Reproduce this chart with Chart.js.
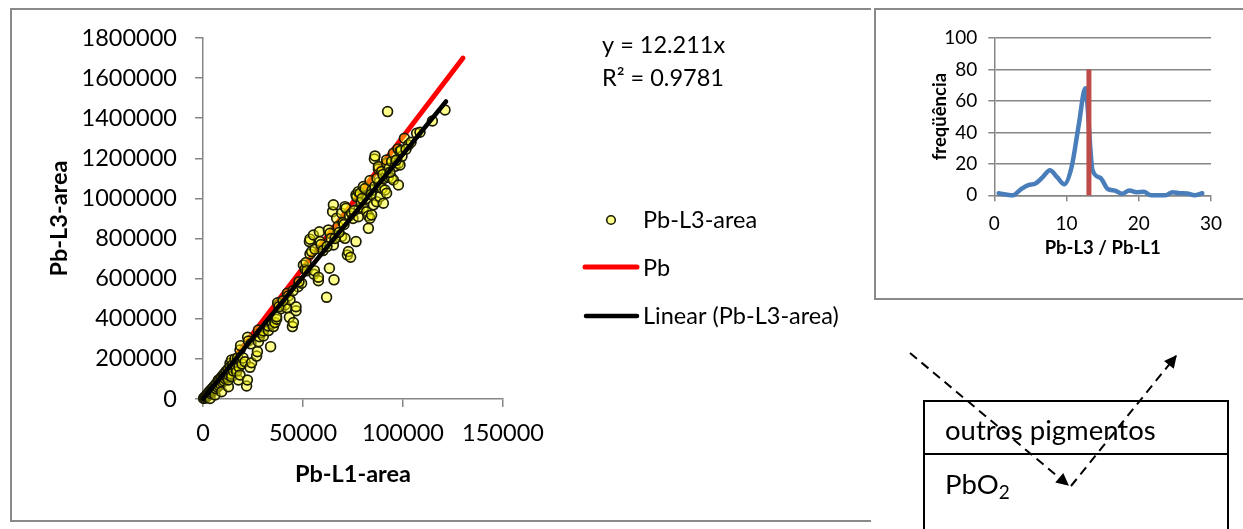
<!DOCTYPE html>
<html>
<head>
<meta charset="utf-8">
<script src="https://cdn.jsdelivr.net/npm/chart.js@4.4.1/dist/chart.umd.min.js"></script>
<style>
  html, body { margin: 0; padding: 0; background: #fff; }
  body { width: 1243px; height: 529px; position: relative; overflow: hidden; font-family: Lato, sans-serif; }
  #panelMain { position: absolute; left: 10px; top: 8px; width: 861px; height: 514px; box-sizing: border-box;
    border-left: 2px solid #898989; border-top: 2px solid #898989; border-bottom: 2px solid #898989; }
  #panelInset { position: absolute; left: 874px; top: 8px; width: 400px; height: 292px; box-sizing: border-box;
    border-left: 2px solid #898989; border-top: 2px solid #898989; border-bottom: 2px solid #898989; }
  #mainChart { position: absolute; left: 0; top: 0; }
  #insetChart { position: absolute; left: 876px; top: 10px; }
  #diagram { position: absolute; left: 0; top: 0; }
</style>
</head>
<body>
<div id="panelMain"></div>
<div id="panelInset"></div>
<canvas id="mainChart" width="870" height="529"></canvas>
<canvas id="insetChart" width="367" height="287"></canvas>
<svg id="diagram" width="1243" height="529" xmlns="http://www.w3.org/2000/svg">
  <defs>
    <marker id="arrow" viewBox="0 0 10 10" refX="9" refY="5" markerWidth="7" markerHeight="7" orient="auto" markerUnits="userSpaceOnUse" style="overflow:visible">
      <path d="M0,0 L10,5 L0,10 z" fill="#000" transform="scale(1.8) translate(-4,-2.2)"/>
    </marker>
  </defs>
  <rect x="924" y="401" width="304" height="160" fill="none" stroke="#000" stroke-width="2"/>
  <line x1="924" y1="454" x2="1228" y2="454" stroke="#000" stroke-width="2"/>
  <text x="945" y="440" font-family="Lato" font-size="27.5" fill="#000">outros pigmentos</text>
  <text x="945" y="494" font-family="Lato" font-size="27.5" fill="#000">PbO<tspan font-size="19" dy="5">2</tspan></text>
  <line x1="910" y1="353" x2="1068" y2="485" stroke="#000" stroke-width="2" stroke-dasharray="9 6" marker-end="url(#arrow)"/>
  <line x1="1071" y1="486" x2="1176" y2="356" stroke="#000" stroke-width="2" stroke-dasharray="9 6" marker-end="url(#arrow)"/>
</svg>
<script>
// ---------- Main scatter data (Pb-L1-area vs Pb-L3-area) ----------
const l1Area = [300,700,1000,1300,1700,2000,2300,2600,3000,3300,3500,3700,4000,4300,4600,5000,5300,5600,6000,6000,
  6400,6800,7200,7600,7700,8000,8400,8800,9300,9200,9600,10000,10200,10500,10800,11200,11600,12000,12500,12700,
  12700,13000,13500,13600,14000,14300,14300,14800,15200,16000,16500,16800,17300,17700,18000,18500,18500,18800,19500,20000,
  21000,21800,22200,22300,22700,23500,24300,24000,26800,27200,27700,27700,28200,29000,30200,30200,32700,32700,33800,34500,
  35200,36000,36800,36800,37700,37300,39000,41000,41800,42200,42700,43200,43500,44700,45200,46500,46500,47500,49300,50200,
  51000,51500,52000,53200,53500,53500,54300,55200,55500,55700,56000,57700,57700,58200,58500,59000,60000,61800,62700,63200,
  63500,64000,64800,65200,65200,65500,66800,67500,69300,69300,70000,71000,71000,71500,72200,72700,73200,73800,74300,75000,
  76500,76500,76800,77700,77700,78000,78500,79000,80200,80200,81000,81800,82000,82700,82700,83500,83500,84300,84500,85200,
  85700,86000,86000,86800,87700,87700,88000,88500,89300,89500,90200,90500,91000,91800,91800,91800,92300,92700,93000,94300,
  94300,95200,95200,96000,96800,97500,97700,97700,98500,98500,99500,100700,102700,104000,106800,108500,114700,121000,
  38000,40000,45000,48000,62000,66000,68000,70500,75500,79500,84000,87000,90000,93500,96500,99000,101500];
const l3Area = [3000,8000,4000,14000,10000,22000,16000,30000,20000,38000,3000,28000,46000,34000,52000,40000,60000,46000,20000,68000,
  52000,78000,60000,88000,95000,66000,98000,74000,36000,108000,84000,118000,111000,90000,128000,100000,138000,108000,148000,61000,
  95000,118000,178000,160000,126000,111000,195000,170000,140000,200000,150000,136000,205000,95000,160000,120000,244000,266000,175000,205000,
  186000,65000,95000,308000,289000,158000,181000,275000,214000,236000,286000,344000,311000,330000,314000,339000,341000,364000,261000,375000,
  361000,381000,398000,410000,469000,480000,450000,469000,455000,527000,514000,407000,494000,361000,381000,440000,460000,560000,577000,668000,
  647000,680000,640000,785000,723000,797000,735000,818000,622000,640000,747000,590000,607000,834000,785000,770000,740000,507000,843000,652000,
  826000,800000,934000,968000,768000,594000,901000,860000,926000,810000,880000,959000,801000,951000,718000,735000,913000,707000,926000,900000,
  1018000,785000,1009000,1034000,909000,950000,1026000,980000,1059000,951000,1049000,934000,1000000,913000,851000,1089000,901000,918000,1040000,968000,
  1197000,1212000,1060000,984000,1147000,1159000,1080000,1009000,1134000,1050000,976000,1100000,1042000,1175000,1192000,1026000,1433000,1106000,1150000,1184000,
  1101000,1225000,1092000,1160000,1192000,1247000,1176000,1067000,1234000,1167000,1210000,1300000,1267000,1280000,1325000,1330000,1386000,1441000,
  460000,490000,540000,585000,760000,800000,830000,870000,940000,1000000,1020000,1100000,1120000,1130000,1190000,1240000,1245000];
const pbLineX = [0, 130000];
const pbLineY = [0, 1700000];
const trendX = [0, 121500];
const trendY = [0, 1483600];
const equationLines = ['y = 12.211x', 'R\u00B2 = 0.9781'];
const legendLabels = ['Pb-L3-area', 'Pb', 'Linear (Pb-L3-area)'];

// ---------- Inset data (histogram of Pb-L3 / Pb-L1) ----------
const ratioBins = [0.6,1.6,2.6,3.7,4.7,5.7,6.7,7.7,8.7,9.7,10.7,11.7,12.6,13.6,14.7,15.7,16.7,17.7,18.7,19.7,20.7,21.7,22.7,23.7,24.7,25.7,26.7,27.7,28.8];
const frequency = [1.3,0.5,0,4,6.5,7.5,11.5,16,11.5,7,18,45,68,16,11,4,3,1,3,2,2.2,0,0,0,2,1.3,1.2,0,1.3];
const pbRatioX = [13.1, 13.1];
const pbRatioY = [0, 80];

const toPts = (xs, ys) => xs.map((x, i) => ({x: x, y: ys[i]}));
const FONT = 'Lato';
const AXIS_GRAY = '#868686';
const POINT_FILL = 'rgba(255,255,0,0.45)';
const POINT_EDGE = '#1c1c05';

const annotationPlugin = {
  id: 'mainAnnot',
  afterDraw(chart) {
    const ctx = chart.ctx;
    ctx.save();
    ctx.fillStyle = '#000';
    ctx.font = '23.5px ' + FONT;
    ctx.textBaseline = 'alphabetic';
    ctx.textAlign = 'left';
    ctx.fillText(equationLines[0], 602, 53);
    ctx.fillText(equationLines[1], 602, 86);
    const ds = chart.data.datasets;
    ctx.beginPath();
    ctx.arc(611, 220, 4.3, 0, Math.PI * 2);
    ctx.fillStyle = POINT_FILL;
    ctx.fill();
    ctx.lineWidth = 1.6;
    ctx.strokeStyle = POINT_EDGE;
    ctx.stroke();
    ctx.fillStyle = '#000';
    ctx.fillText(legendLabels[0], 643, 228);
    ctx.lineCap = 'round';
    ctx.beginPath(); ctx.moveTo(585, 267); ctx.lineTo(637, 267);
    ctx.strokeStyle = ds[1].borderColor; ctx.lineWidth = 5; ctx.stroke();
    ctx.fillText(legendLabels[1], 643, 276);
    ctx.beginPath(); ctx.moveTo(586, 316); ctx.lineTo(637, 316);
    ctx.strokeStyle = ds[2].borderColor; ctx.lineWidth = 4.5; ctx.stroke();
    ctx.fillText(legendLabels[2], 643, 324);
    ctx.restore();
  }
};

new Chart(document.getElementById('mainChart'), {
  type: 'scatter',
  data: {
    datasets: [
      { label: legendLabels[0], data: toPts(l1Area, l3Area), backgroundColor: POINT_FILL,
        borderColor: POINT_EDGE, borderWidth: 1.7, pointRadius: 4.9, order: 1, clip: false },
      { label: legendLabels[1], data: toPts(pbLineX, pbLineY), showLine: true, borderColor: '#FF0000',
        borderWidth: 5, pointRadius: 0, borderCapStyle: 'round', order: 2, clip: false },
      { label: legendLabels[2], data: toPts(trendX, trendY), showLine: true, borderColor: '#000000',
        borderWidth: 4.5, pointRadius: 0, borderCapStyle: 'round', order: 0, clip: false }
    ]
  },
  options: {
    responsive: false, animation: false, devicePixelRatio: 1,
    layout: { padding: { left: 0, top: 38, right: 367, bottom: 0 } },
    plugins: { legend: { display: false }, tooltip: { enabled: false } },
    scales: {
      x: {
        type: 'linear', min: 0, max: 150000,
        ticks: { stepSize: 50000, color: '#000', font: { family: FONT, size: 23.5 }, padding: 12, maxRotation: 0,
                 callback: v => String(v) },
        grid: { drawOnChartArea: false, drawTicks: true, tickLength: 8, color: AXIS_GRAY, lineWidth: 1.5 },
        border: { display: true, color: AXIS_GRAY, width: 1.5 },
        title: { display: true, text: 'Pb-L1-area', color: '#000', font: { family: FONT, size: 23.5, weight: 'bold' },
                 padding: { top: 0, bottom: 40 } },
        afterFit: s => { s.height = 130; }
      },
      y: {
        type: 'linear', min: 0, max: 1800000,
        ticks: { stepSize: 200000, color: '#000', font: { family: FONT, size: 23.5 }, padding: 18,
                 callback: v => String(v) },
        grid: { drawOnChartArea: false, drawTicks: true, tickLength: 8, color: AXIS_GRAY, lineWidth: 1.5 },
        border: { display: true, color: AXIS_GRAY, width: 1.5 },
        title: { display: true, text: 'Pb-L3-area', color: '#000', font: { family: FONT, size: 23.5, weight: 'bold' },
                 padding: { top: 45, bottom: 0 } },
        afterFit: s => { s.width = 203; }
      }
    }
  },
  plugins: [annotationPlugin]
});

new Chart(document.getElementById('insetChart'), {
  type: 'scatter',
  data: {
    datasets: [
      { label: 'freq', data: toPts(ratioBins, frequency), showLine: true, borderColor: '#4A7EBB', borderWidth: 4.5,
        pointRadius: 0, cubicInterpolationMode: 'monotone', borderCapStyle: 'round', borderJoinStyle: 'round', order: 1, clip: false },
      { label: 'Pb', data: toPts(pbRatioX, pbRatioY), showLine: true, borderColor: '#BE4B48', borderWidth: 5,
        pointRadius: 0, order: 0, clip: false }
    ]
  },
  options: {
    responsive: false, animation: false, devicePixelRatio: 1,
    layout: { padding: { left: 0, top: 28, right: 32, bottom: 0 } },
    plugins: { legend: { display: false }, tooltip: { enabled: false } },
    scales: {
      x: {
        type: 'linear', min: 0, max: 30,
        ticks: { stepSize: 10, color: '#000', font: { family: FONT, size: 19 }, padding: 11, maxRotation: 0 },
        grid: { drawOnChartArea: false, drawTicks: true, tickLength: 6, color: AXIS_GRAY, lineWidth: 1.5 },
        border: { display: true, color: AXIS_GRAY, width: 1.5 },
        title: { display: true, text: 'Pb-L3 / Pb-L1', color: '#000', font: { family: FONT, size: 18.5, weight: 'bold' },
                 padding: { top: 0, bottom: 38 } },
        afterFit: s => { s.height = 101.7; }
      },
      y: {
        type: 'linear', min: 0, max: 100,
        ticks: { stepSize: 20, color: '#000', font: { family: FONT, size: 19 }, padding: 11 },
        grid: { drawOnChartArea: true, drawTicks: true, tickLength: 6, color: AXIS_GRAY, lineWidth: 1.5 },
        border: { display: true, color: AXIS_GRAY, width: 1.5 },
        title: { display: true, text: 'freqüência', color: '#000', font: { family: FONT, size: 18.5, weight: 'bold' },
                 padding: { top: 53, bottom: 0 } },
        afterFit: s => { s.width = 118.3; }
      }
    }
  }
});
</script>
</body>
</html>
